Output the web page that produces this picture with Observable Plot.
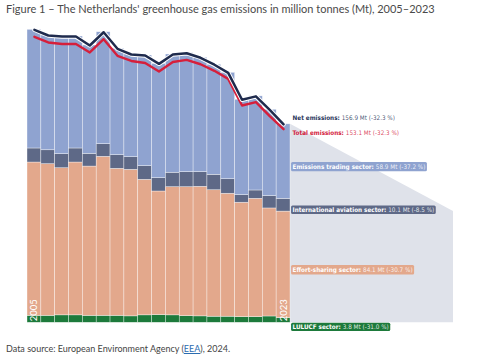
<!DOCTYPE html>
<html><head><meta charset="utf-8">
<script src="https://cdn.jsdelivr.net/npm/d3@7"></script>
<script src="https://cdn.jsdelivr.net/npm/@observablehq/plot@0.6"></script>
<style>
body{margin:0;width:485px;height:360px;position:relative;background:#fff;font-family:Lato,"Noto Sans",sans-serif;overflow:hidden}
#title{position:absolute;left:6px;top:0;font-size:11px;line-height:17px;color:#4a4a4a;white-space:nowrap}
#chart{position:absolute;left:0;top:17px}
#foot{position:absolute;left:6px;top:343px;font-size:9px;line-height:12px;color:#444;white-space:nowrap}
#foot a{color:#2b6cb0;text-decoration:underline}
</style></head><body>
<div id="title">Figure 1 – The Netherlands' greenhouse gas emissions in million tonnes (Mt), 2005–2023</div>
<div id="chart"></div>
<div id="foot">Data source: European Environment Agency (<a>EEA</a>), 2024.</div>
<script>
const years = [2005,2006,2007,2008,2009,2010,2011,2012,2013,2014,2015,2016,2017,2018,2019,2020,2021,2022,2023];
const lulucf = [5.5,5.5,5.9,5.9,5.5,5.5,5.5,5.1,5.9,6.1,5.9,5.3,5.1,4.8,4.8,4.5,4.5,5.0,3.8];
const effortSharing = [121.2,119.9,116.3,120.8,118.0,125.7,116.2,115.8,107.1,97.7,101.3,101.9,102.4,100.0,97.2,90.4,93.5,85.4,84.1];
const aviation = [11.1,11.0,11.1,11.1,10.1,10.0,10.8,10.0,10.8,10.5,11.4,11.9,11.6,12.2,11.5,6.0,6.6,9.7,10.1];
const ets = [93.8,90.7,93.0,88.5,85.6,88.5,84.1,81.2,87.5,90.4,93.5,94.0,90.4,87.0,84.1,75.4,74.4,68.3,58.9];

const sectors = ["LULUCF sector","Effort-sharing sector","International aviation sector","Emissions trading sector"];
const sectorColors = ["#1d7a3b","#e3a88c","#5e6987","#8fa3d0"];

const labelNames = ["Net emissions","Total emissions","Emissions trading sector","International aviation sector","Effort-sharing sector","LULUCF sector"];
const labelValues = ["156.9 Mt (-32.3 %)","153.1 Mt (-32.3 %)","58.9 Mt (-37.2 %)","10.1 Mt (-8.5 %)","84.1 Mt (-30.7 %)","3.8 Mt (-31.0 %)"];
const yearLabels = [2005, 2023];

// derived tables
const series = [lulucf, effortSharing, aviation, ets];
const long = [];
years.forEach((yr, i) => series.forEach((s, k) => long.push({year: yr, sector: sectors[k], value: s[i]})));
const rows = years.map((yr, i) => {
  const net = lulucf[i] + effortSharing[i] + aviation[i] + ets[i];
  return {year: yr, net, total: net - lulucf[i]};
});
const last = years.length - 1;
const netL = rows[last].net, totL = rows[last].total;
const labelY = [netL, totL,
  lulucf[last] + effortSharing[last] + aviation[last] + ets[last] / 2,
  lulucf[last] + effortSharing[last] + aviation[last] / 2,
  lulucf[last] + effortSharing[last] / 2,
  lulucf[last] / 2];
const labelDy = [-6, 3.5, 5, 5, 5, 7];
const labelFill = ["#27345a", "#d3213c", "#fff", "#fff", "#fff", "#fff"];
const labelBg = [null, null, "#8fa3d0", "#5e6987", "#e3a88c", "#1d7a3b"];
const labelRows = labelNames.map((n, i) => ({name: n, val: labelValues[i], y: labelY[i], dy: labelDy[i], fill: labelFill[i], bg: labelBg[i]}));

const W = 485, H = 320, baseline = 305.3, pxPerMt = 1.265;
const chart = Plot.plot({
  width: W, height: H,
  marginLeft: 27, marginRight: W - 290, marginTop: 0, marginBottom: H - baseline,
  x: {type: "band", domain: years, padding: 0, round: false, axis: null},
  y: {domain: [0, baseline / pxPerMt], axis: null},
  color: {domain: sectors, range: sectorColors},
  marks: [
    Plot.barY(long, {x: "year", y: "value", fill: "sector", order: sectors, stroke: "white", strokeWidth: 0.6, strokeOpacity: 0.6}),
    Plot.line(rows, {x: "year", y: "total", stroke: "#d61f3b", strokeWidth: 2.4}),
    Plot.line(rows, {x: "year", y: "net", stroke: "white", strokeWidth: 4.4}),
    Plot.line(rows, {x: "year", y: "net", stroke: "#1f2b4d", strokeWidth: 2.5}),
    Plot.text(yearLabels, {x: d => d, y: 0, text: d => String(d), rotate: -90, textAnchor: "start", dy: -1.6, fill: "white", fontSize: 9.5, fontFamily: "Lato, sans-serif"}),
    ...labelRows.map(r => Plot.text([r], {x: () => 2023, y: "y", text: d => d.name + ": " + d.val, textAnchor: "start", dx: 9, dy: r.dy, fill: r.fill, fontSize: 6.3, fontFamily: "'Liberation Sans Narrow','DejaVu Sans Condensed',sans-serif"}))
  ]
});
document.getElementById("chart").append(chart);

// gray connector shape behind bars, positioned with the plot's scales
const xs = chart.scale("x"), ys = chart.scale("y");
const x0 = xs.apply(2023) + xs.bandwidth, x1 = x0 + 163;
const shape = document.createElementNS("http://www.w3.org/2000/svg", "path");
shape.setAttribute("d", `M${x0},${ys.apply(netL)}L${x1},${ys.apply(88)}L${x1},${ys.apply(0)}L${x0},${ys.apply(0)}Z`);
shape.setAttribute("fill", "#dfe2ea");
const firstG = chart.querySelector("g");
chart.insertBefore(shape, firstG);

// bold names and coloured boxes for the labels
chart.querySelectorAll("text").forEach(t => {
  const r = labelRows.find(l => t.textContent === l.name + ": " + l.val);
  if (!r) return;
  t.textContent = "";
  const a = document.createElementNS("http://www.w3.org/2000/svg", "tspan");
  a.setAttribute("font-weight", "bold"); a.textContent = r.name + ": ";
  const b = document.createElementNS("http://www.w3.org/2000/svg", "tspan");
  b.textContent = r.val; b.setAttribute("fill-opacity", "0.85");
  t.append(a, b);
  if (r.bg) {
    const bb = t.getBBox();
    const rect = document.createElementNS("http://www.w3.org/2000/svg", "rect");
    rect.setAttribute("x", bb.x - 1.5); rect.setAttribute("y", bb.y - 0.7);
    rect.setAttribute("width", bb.width + 3); rect.setAttribute("height", bb.height + 1.4);
    rect.setAttribute("rx", 1.5); rect.setAttribute("fill", r.bg);
    if (t.getAttribute("transform")) rect.setAttribute("transform", t.getAttribute("transform"));
    t.parentNode.insertBefore(rect, t);
  }
});
</script>
</body></html>
